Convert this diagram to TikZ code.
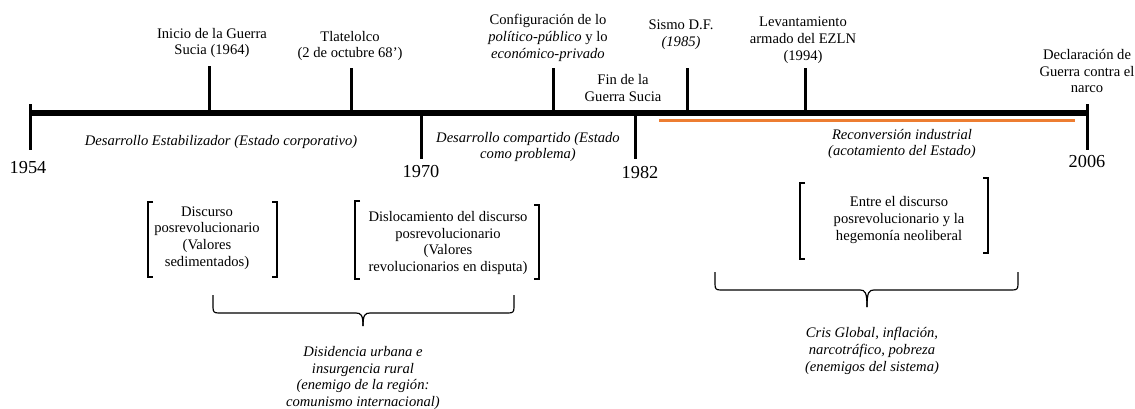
\documentclass[tikz,border=0pt]{standalone}
\usepackage{fontspec}
\setmainfont{Liberation Serif}
\definecolor{orangeline}{RGB}{237,125,49}
\begin{document}
\begin{tikzpicture}[x=1pt,y=-1pt,
  lbl/.style={inner sep=0pt,align=center,font=\fontsize{14.6}{16.8}\selectfont},
  ilbl/.style={lbl,font=\fontsize{14.6}{16.8}\selectfont\itshape},
  yr/.style={inner sep=0pt,font=\fontsize{18.3}{20}\selectfont},
  axis/.style={line width=5.5pt},
  tick/.style={line width=3pt},
  brk/.style={line width=1.2pt},
  brc/.style={line width=1.2pt,line join=round}]
\useasboundingbox (0,0) rectangle (1135,408);
% axis
\coordinate (a0) at (30,113);
\coordinate (a1) at (1087,113);
\draw[axis] (a0) -- (a1);
% end ticks
\coordinate (t54a) at (30,104); \coordinate (t54b) at (30,150);
\draw[tick] (t54a) -- (t54b);
\coordinate (t06a) at (1087,104); \coordinate (t06b) at (1087,150);
\draw[tick] (t06a) -- (t06b);
% upward ticks
\foreach \n/\x/\t in {inicio/209/66, tlat/351/68, conf/553/68, sismo/687/68, ezln/805/68}{
  \coordinate (\n a) at (\x,113); \coordinate (\n b) at (\x,\t);
  \draw[tick] (\n a) -- (\n b);
}
% downward ticks
\foreach \n/\x in {t70/421, t82/635}{
  \coordinate (\n a) at (\x,113); \coordinate (\n b) at (\x,159);
  \draw[tick] (\n a) -- (\n b);
}
% orange line
\coordinate (o0) at (659,120); \coordinate (o1) at (1075,120);
\draw[orangeline,line width=3pt] (o0) -- (o1);
% years
\node[yr] (y54) at (28,168) {1954};
\node[yr] (y70) at (421,171) {1970};
\node[yr] (y82) at (640,172) {1982};
\node[yr] (y06) at (1087,161) {2006};
% top labels
\node[lbl] (inicio) at (212,43) {Inicio de la Guerra\\Sucia (1964)};
\node[lbl] (tlat) at (350,46) {Tlatelolco\\(2 de octubre 68’)};
\node[lbl] (conf) at (548,38) {Configuración de lo\\\textit{político-público} y lo\\\textit{económico-privado}};
\node[lbl] (fin) at (623,88) {Fin de la\\Guerra Sucia};
\node[lbl] (sismo) at (681,35) {Sismo D.F.\\\textit{(1985)}};
\node[lbl] (ezln) at (803,40) {Levantamiento\\armado del EZLN\\(1994)};
\node[lbl] (decl) at (1087,71) {Declaración de\\Guerra contra el\\narco};
% period labels
\node[ilbl] (estab) at (221,142) {Desarrollo Estabilizador (Estado corporativo)};
\node[ilbl] (comp) at (528,147) {Desarrollo compartido (Estado\\como problema)};
\node[ilbl] (recon) at (902,144) {Reconversión industrial\\(acotamiento del Estado)};
% bracket 1
\node[lbl] (disc1) at (207,238) {Discurso\\posrevolucionario\\(Valores\\sedimentados)};
\draw[brk] (153,202) -- (148,202) -- (148,277) -- (153,277);
\draw[brk] (272,202) -- (277,202) -- (277,277) -- (272,277);
% bracket 2
\node[lbl] (disc2) at (448,243) {Dislocamiento del discurso\\posrevolucionario\\(Valores\\revolucionarios en disputa)};
\draw[brk] (360,201) -- (355,201) -- (355,279) -- (360,279);
\draw[brk] (534,205) -- (539,205) -- (539,279) -- (534,279);
% bracket 3
\node[lbl] (disc3) at (899,220) {Entre el discurso\\posrevolucionario y la\\hegemonía neoliberal};
\draw[brk] (805,183) -- (800,183) -- (800,259) -- (805,259);
\draw[brk] (983,178) -- (988,178) -- (988,253) -- (983,253);
% brace 1
\coordinate (b1l) at (213,295); \coordinate (b1r) at (514,295); \coordinate (b1t) at (363,326);
\draw[brc] (b1l) -- (213,307) .. controls (213,312) and (214,313) .. (219,313) -- (356,313)
  .. controls (361,313) and (363,315) .. (b1t);
\draw[brc] (b1r) -- (514,307) .. controls (514,312) and (513,313) .. (508,313) -- (370,313)
  .. controls (365,313) and (363,315) .. (b1t);
\node[ilbl] (dis) at (363,378) {Disidencia urbana e\\insurgencia rural\\(enemigo de la región:\\comunismo internacional)};
% brace 2
\coordinate (b2l) at (715,272); \coordinate (b2r) at (1018,272); \coordinate (b2t) at (867,307);
\draw[brc] (b2l) -- (715,284) .. controls (715,289) and (716,290) .. (721,290) -- (860,290)
  .. controls (865,290) and (867,292) .. (b2t);
\draw[brc] (b2r) -- (1018,284) .. controls (1018,289) and (1017,290) .. (1012,290) -- (874,290)
  .. controls (869,290) and (867,292) .. (b2t);
\node[ilbl] (cris) at (872,351) {Cris Global, inflación,\\narcotráfico, pobreza\\(enemigos del sistema)};
\end{tikzpicture}
\end{document}
